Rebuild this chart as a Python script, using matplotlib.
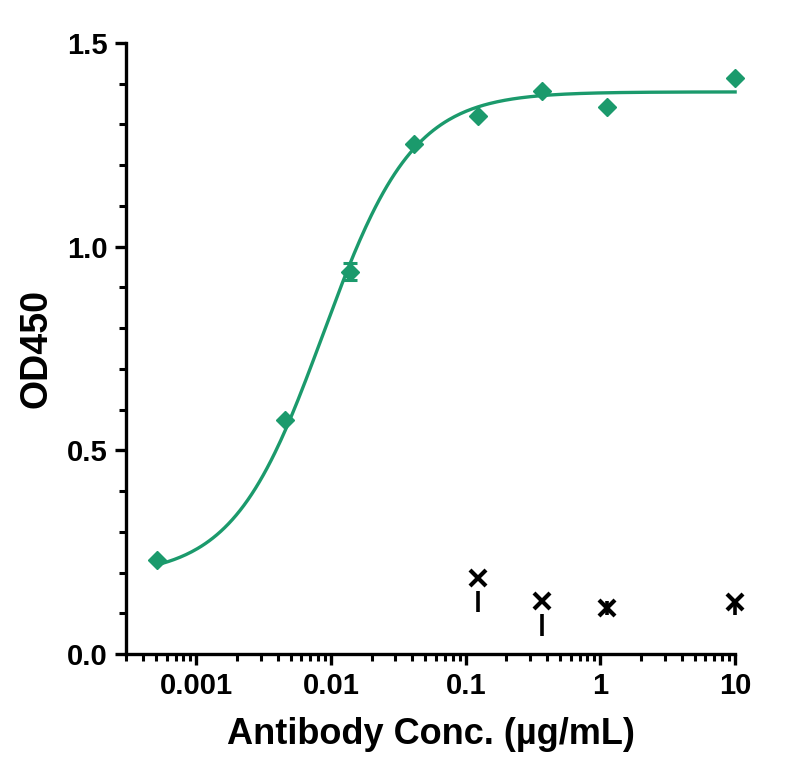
import matplotlib
matplotlib.use("Agg")
import matplotlib.pyplot as plt
from matplotlib.ticker import LogLocator, FixedLocator, MultipleLocator
import numpy as np

plt.rcParams['font.family'] = ['Liberation Sans', 'DejaVu Sans']
plt.rcParams['font.weight'] = 'bold'

# antibody concentrations (ug/mL)
conc = [0.000508, 0.00457, 0.0137, 0.0412, 0.123, 0.370, 1.11, 10.0]
od = [0.231, 0.575, 0.939, 1.251, 1.322, 1.383, 1.344, 1.415]
od_err = [0.0, 0.0, 0.022, 0.0, 0.0, 0.0, 0.0, 0.0]

# negative control
neg_conc = [0.123, 0.370, 1.11, 10.0]
neg_od = [0.187, 0.130, 0.113, 0.128]
neg_lo = [0.085, 0.087, 0.018, 0.032]
neg_hi = [0.0, 0.0, 0.018, 0.0]

# 4PL fit parameters
bottom, top, ec50, hill = 0.19, 1.38, 0.0087, 1.3

green = '#1b9a6c'

fig = plt.figure(figsize=(7.93, 7.78), dpi=100)
ax = fig.add_axes([0.159, 0.1594, 0.768, 0.7853])

xs = np.logspace(np.log10(conc[0]), np.log10(conc[-1]), 300)
fit = bottom + (top - bottom) / (1 + (ec50 / xs) ** hill)
ax.plot(xs, fit, color=green, lw=2.4, zorder=3, clip_on=False)
ax.errorbar(conc, od, yerr=od_err, fmt='D', color=green, ms=9,
            capsize=5, capthick=2.2, elinewidth=2.2, zorder=4, clip_on=False)

# negative control: lower bars, separated from the marker where they are long
neg_conc = np.array(neg_conc)
neg_od = np.array(neg_od)
neg_lo = np.array(neg_lo)
neg_hi = np.array(neg_hi)
ax.vlines(neg_conc, neg_od - neg_lo, neg_od + neg_hi, color='black', lw=2.6,
          zorder=3, clip_on=False)
gap = neg_lo > 0.05
ax.plot(neg_conc[gap], neg_od[gap], 's', color='white', ms=19, mew=0, zorder=4)
ax.plot(neg_conc, neg_od, 'x', color='black', ms=11, mew=3, zorder=5, clip_on=False)

ax.set_xscale('log')
ax.set_xlim(0.0003, 10)
ax.set_ylim(0, 1.5)
ax.xaxis.set_major_locator(FixedLocator([0.001, 0.01, 0.1, 1, 10]))
ax.xaxis.set_minor_locator(LogLocator(base=10, subs=np.arange(2, 10)))
ax.set_xticklabels(['0.001', '0.01', '0.1', '1', '10'])
ax.yaxis.set_major_locator(FixedLocator([0, 0.5, 1.0, 1.5]))
ax.yaxis.set_minor_locator(MultipleLocator(0.1))
ax.set_yticklabels(['0.0', '0.5', '1.0', '1.5'])

for s in ['top', 'right']:
    ax.spines[s].set_visible(False)
for s in ['left', 'bottom']:
    ax.spines[s].set_linewidth(2.4)
ax.tick_params(which='major', length=8, width=2.4, labelsize=21, pad=5)
ax.tick_params(which='minor', length=5, width=2.2)
for lab in ax.get_xticklabels() + ax.get_yticklabels():
    lab.set_fontweight('bold')

ax.set_xlabel('Antibody Conc. (µg/mL)', fontsize=26, fontweight='bold', labelpad=12)
ax.set_ylabel('OD450', fontsize=27, fontweight='bold', labelpad=9)

fig.savefig('out.png', dpi=100)
